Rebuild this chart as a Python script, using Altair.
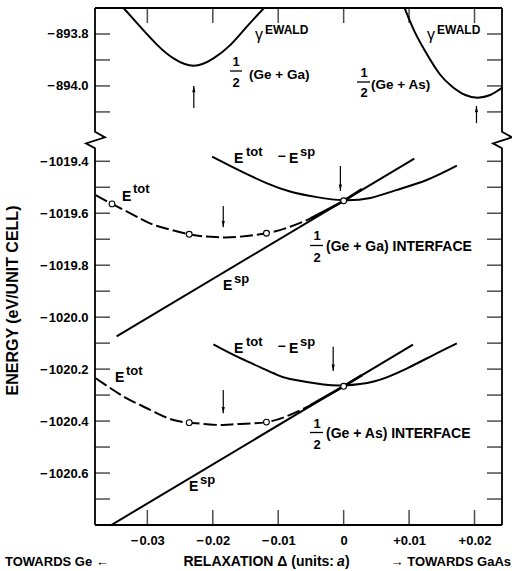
import altair as alt
import pandas as pd

FONT = "Liberation Sans"
W, H = 407, 517          # plot area
OFFSET = 125.11          # upper (Ewald) panel is drawn shifted onto the shared energy axis

# ---------------- data ----------------
x_ticks = [-0.03, -0.02, -0.01, 0.0, 0.01, 0.02]

top_tick_E = [-893.8, -893.9, -894.0, -894.1]
top_label_E = [-893.8, -894.0]
low_tick_E = [-1019.4, -1019.5, -1019.6, -1019.7, -1019.8, -1019.9, -1020.0,
              -1020.1, -1020.2, -1020.3, -1020.4, -1020.5, -1020.6, -1020.7]
low_label_E = [-1019.4, -1019.6, -1019.8, -1020.0, -1020.2, -1020.4, -1020.6]

# gamma^EWALD, 1/2 (Ge + Ga)
ewald_ga_d = [-0.0336, -0.0311, -0.0285, -0.0260, -0.0229, -0.0199, -0.0173, -0.0148, -0.0122]
ewald_ga_E = [-893.701, -893.772, -893.842, -893.894, -893.922, -893.894, -893.842, -893.772, -893.701]
# gamma^EWALD, 1/2 (Ge + As)
ewald_as_d = [0.0092, 0.0109, 0.0128, 0.0147, 0.0166, 0.0186, 0.0205, 0.0224, 0.0242]
ewald_as_E = [-893.693, -893.794, -893.881, -893.955, -894.003, -894.035, -894.045, -894.035, -894.007]

# 1/2 (Ge + Ga) interface
ga_tot_d = [-0.0379, -0.0354, -0.0311, -0.0285, -0.0236, -0.0209, -0.0184, -0.0158,
            -0.0118, -0.0082, -0.0051, -0.0021, 0.0, 0.0028]
ga_tot_E = [-1019.530, -1019.564, -1019.620, -1019.649, -1019.681, -1019.690, -1019.693, -1019.690,
            -1019.677, -1019.652, -1019.621, -1019.581, -1019.552, -1019.507]
ga_pts_d = [-0.0354, -0.0236, -0.0118, 0.0]
ga_pts_E = [-1019.564, -1019.681, -1019.677, -1019.552]
ga_diff_d = [-0.0201, -0.0158, -0.0117, -0.0082, -0.0041, 0.0, 0.0041, 0.0079, 0.0127, 0.0173]
ga_diff_E = [-1019.382, -1019.437, -1019.485, -1019.516, -1019.538, -1019.550, -1019.541,
             -1019.512, -1019.472, -1019.417]
ga_sp_d = [-0.0347, 0.0108]
ga_sp_E = [-1020.074, -1019.390]

# 1/2 (Ge + As) interface
as_tot_d = [-0.0379, -0.0336, -0.0311, -0.0285, -0.0260, -0.0236, -0.0209, -0.0184, -0.0158,
            -0.0118, -0.0082, -0.0051, -0.0021, 0.0, 0.0028]
as_tot_E = [-1020.235, -1020.306, -1020.338, -1020.370, -1020.396, -1020.406, -1020.412, -1020.415,
            -1020.411, -1020.404, -1020.376, -1020.340, -1020.296, -1020.266, -1020.223]
as_pts_d = [-0.0236, -0.0118, 0.0]
as_pts_E = [-1020.406, -1020.404, -1020.266]
as_diff_d = [-0.0199, -0.0158, -0.0107, -0.0082, -0.0031, 0.0, 0.0046, 0.0097, 0.0137, 0.0173]
as_diff_E = [-1020.105, -1020.158, -1020.216, -1020.238, -1020.259, -1020.263, -1020.248,
             -1020.197, -1020.146, -1020.101]
as_sp_d = [-0.0357, 0.0106]
as_sp_E = [-1020.803, -1020.106]

# minimum markers (arrows)
arrow_d = [-0.0229, 0.0203, -0.0184, -0.0005, -0.0184, -0.0016]
arrow_from = [-894.085, -894.143, -1019.572, -1019.418, -1020.280, -1020.114]
arrow_to = [-894.000, -894.077, -1019.654, -1019.514, -1020.370, -1020.207]
arrow_top = [True, True, False, False, False, False]

# axis-break zigzag on the frame
X_MIN, X_MAX = -0.038, 0.0242
Y_MIN, Y_MAX = -1020.8, -1018.81
break_v = [-1019.286, -1019.308, -1019.331, -1019.350]
break_dx = [0.0, 0.00153, -0.00138, 0.0]

# ---------------- encodings ----------------
xscale = alt.Scale(domain=[X_MIN, X_MAX], nice=False, zero=False)
yscale = alt.Scale(domain=[Y_MIN, Y_MAX], nice=False, zero=False)

x_expr = ("datum.value == 0 ? '0' : (datum.value > 0 ? '+' + format(datum.value, '.2f') : "
          "replace(format(datum.value, '.2f'), '\u2212', '\u2212\u200a'))")
y_expr = ("replace(format(datum.value > -1019.3 ? datum.value + %s : datum.value, '.1f'), "
          "'\u2212', '\u2212\u200a')" % OFFSET)

xaxis = alt.Axis(values=x_ticks, labelExpr=x_expr, ticks=False, domain=False, grid=False,
                 labelFont=FONT, labelFontSize=13, labelFontWeight="bold", labelColor="black",
                 labelPadding=9, labelFlush=False, labelOverlap=False, title=None)
yaxis = alt.Axis(values=[e - OFFSET for e in top_label_E] + low_label_E, labelExpr=y_expr,
                 ticks=False, domain=False, grid=False, labelFont=FONT, labelFontSize=13,
                 labelFontWeight="bold", labelColor="black", labelPadding=7, labelFlush=False,
                 labelOverlap=False, title="ENERGY  (eV/UNIT CELL)", titleFont=FONT,
                 titleFontSize=16, titleFontWeight="bold", titleColor="black", titleAngle=270,
                 titleX=-83, titleY=292, titleAlign="center", titleBaseline="middle")

X_ENC = alt.X("d:Q", scale=xscale, axis=xaxis)
Y_ENC = alt.Y("v:Q", scale=yscale, axis=yaxis)

dummy = pd.DataFrame({"k": [0]})


def curve(d, E, shift=0.0, dash=None, width=2.0, flt=None):
    df = pd.DataFrame({"d": d, "v": [e - shift for e in E]})
    kw = dict(interpolate="natural", clip=True, color="black", strokeWidth=width)
    if dash:
        kw["strokeDash"] = dash
    ch = alt.Chart(df).mark_line(**kw)
    if flt:
        ch = ch.transform_filter(flt)
    return ch.encode(x=X_ENC, y=Y_ENC, order="d:Q")


def circles(d, E):
    df = pd.DataFrame({"d": d, "v": E})
    return alt.Chart(df).mark_point(shape="circle", filled=True, fill="white", stroke="black",
                                    strokeWidth=1.1, size=34, opacity=1).encode(x=X_ENC, y=Y_ENC)


def label(text, x, y, size=14, weight="bold", align="left", style="normal"):
    return alt.Chart(dummy).mark_text(text=text, align=align, baseline="alphabetic", font=FONT,
                                      fontSize=size, fontWeight=weight, fontStyle=style,
                                      color="black").encode(x=alt.value(x - 95), y=alt.value(y - 8))


def bar(x1, x2, y):
    return alt.Chart(dummy).mark_rule(color="black", strokeWidth=1.3).encode(
        x=alt.value(x1 - 95), x2=alt.value(x2 - 95), y=alt.value(y - 8))


layers = []

# frame
layers.append(alt.Chart(dummy).mark_rule(color="black", strokeWidth=1.8).encode(
    x=alt.value(0), x2=alt.value(W), y=alt.value(0)))
layers.append(alt.Chart(dummy).mark_rule(color="black", strokeWidth=1.8).encode(
    x=alt.value(0), x2=alt.value(W), y=alt.value(H)))
for xe in (X_MIN, X_MAX):
    fd = [xe] + [xe + dx for dx in break_dx] + [xe]
    fv = [Y_MAX] + break_v + [Y_MIN]
    fdf = pd.DataFrame({"d": fd, "v": fv, "i": list(range(len(fd)))})
    layers.append(alt.Chart(fdf).mark_line(color="black", strokeWidth=1.8, clip=False).encode(
        x=X_ENC, y=Y_ENC, order="i:Q"))

# inward ticks
yt = pd.DataFrame({"v": [e - OFFSET for e in top_tick_E] + low_tick_E})
xt = pd.DataFrame({"d": x_ticks})
layers.append(alt.Chart(yt).mark_tick(orient="horizontal", size=15, thickness=1.5, color="black")
              .encode(y=Y_ENC, x=alt.value(7.5)))
layers.append(alt.Chart(yt).mark_tick(orient="horizontal", size=15, thickness=1.5, color="black")
              .encode(y=Y_ENC, x=alt.value(W - 7.5)))
layers.append(alt.Chart(xt).mark_tick(orient="vertical", size=15, thickness=1.5, color="black")
              .encode(x=X_ENC, y=alt.value(H - 7.5)))
layers.append(alt.Chart(xt).mark_tick(orient="vertical", size=15, thickness=1.5, color="black")
              .encode(x=X_ENC, y=alt.value(7.5)))

# curves
layers.append(curve(ewald_ga_d, ewald_ga_E, shift=OFFSET))
layers.append(curve(ewald_as_d, ewald_as_E, shift=OFFSET))
layers.append(curve(ga_sp_d, ga_sp_E))
layers.append(curve(ga_diff_d, ga_diff_E))
layers.append(curve(ga_tot_d, ga_tot_E, dash=[13, 4], flt="datum.d <= -0.005"))
layers.append(curve(ga_tot_d, ga_tot_E, width=2.6, flt="datum.d >= -0.0052"))
layers.append(curve(as_sp_d, as_sp_E))
layers.append(curve(as_diff_d, as_diff_E))
layers.append(curve(as_tot_d, as_tot_E, dash=[13, 4], flt="datum.d <= -0.005"))
layers.append(curve(as_tot_d, as_tot_E, width=2.6, flt="datum.d >= -0.0052"))
layers.append(circles(ga_pts_d, ga_pts_E))
layers.append(circles(as_pts_d, as_pts_E))

# arrows
adf = pd.DataFrame({
    "d": arrow_d,
    "v": [a - (OFFSET if t else 0) for a, t in zip(arrow_from, arrow_top)],
    "v2": [a - (OFFSET if t else 0) for a, t in zip(arrow_to, arrow_top)],
})
adf["up"] = adf["v2"] > adf["v"]
layers.append(alt.Chart(adf).mark_rule(color="black", strokeWidth=1.2).encode(
    x=X_ENC, y=Y_ENC, y2="v2:Q"))
layers.append(alt.Chart(adf).transform_filter("datum.up").mark_point(
    shape="M-0.5,1L0.5,1L0,-1Z", filled=True, color="black", size=40, yOffset=3.2, opacity=1)
    .encode(x=X_ENC, y=alt.Y("v2:Q", scale=yscale, axis=yaxis)))
layers.append(alt.Chart(adf).transform_filter("!datum.up").mark_point(
    shape="M-0.5,-1L0.5,-1L0,1Z", filled=True, color="black", size=40, yOffset=-3.2, opacity=1)
    .encode(x=X_ENC, y=alt.Y("v2:Q", scale=yscale, axis=yaxis)))

# annotations: upper panel
layers += [
    label("\u03b3", 255, 40, 16, "normal"), label("EWALD", 265, 34, 12),
    label("\u03b3", 427, 40, 16, "normal"), label("EWALD", 437, 34, 12),
    label("1", 236, 66, 13, align="center"), bar(230, 242, 71), label("2", 236, 87, 13, align="center"),
    label("(Ge + Ga)", 249, 79, 13.5),
    label("1", 364, 77, 13, align="center"), bar(357, 370, 82), label("2", 364, 97, 13, align="center"),
    label("(Ge + As)", 371, 89, 13.5),
]
# middle (Ga) panel
layers += [
    label("E", 234, 163), label("tot", 246, 156, 13), label("\u2212", 281.5, 161, 14, align="center"),
    label("E", 289, 163), label("sp", 300, 156, 13),
    label("E", 122, 201), label("tot", 133, 193, 13),
    label("1", 317, 240, 13, align="center"), bar(310, 323, 245.5), label("2", 317, 262, 13, align="center"),
    label("(Ge + Ga) INTERFACE", 326, 251, 14),
    label("E", 223, 290), label("sp", 234, 283, 13),
]
# lower (As) panel
layers += [
    label("E", 234, 353), label("tot", 246, 346, 13), label("\u2212", 281.5, 351, 14, align="center"),
    label("E", 289, 353), label("sp", 300, 346, 13),
    label("E", 115, 382), label("tot", 126, 375, 13),
    label("1", 317, 428, 13, align="center"), bar(310, 323, 432.5), label("2", 317, 449, 13, align="center"),
    label("(Ge + As) INTERFACE", 326, 438, 14),
    label("E", 189, 491), label("sp", 200, 484, 13),
]
# bottom captions
layers += [
    label("TOWARDS Ge \u2190", 5, 566, 13),
    label("RELAXATION  \u0394  (units:", 334, 566, 14, align="right"),
    label("a", 337, 566, 14, style="italic"),
    label(")", 345, 566, 14),
    label("\u2192 TOWARDS GaAs", 511, 566, 13, align="right"),
]

chart = alt.layer(*layers).properties(
    width=W, height=H,
    autosize=alt.AutoSizeParams(type="none"),
    padding={"left": 95, "top": 8, "right": 10, "bottom": 46},
    background="white",
).configure_view(stroke=None)

chart.save("out.html", embed_options={"renderer": "svg", "actions": False})
